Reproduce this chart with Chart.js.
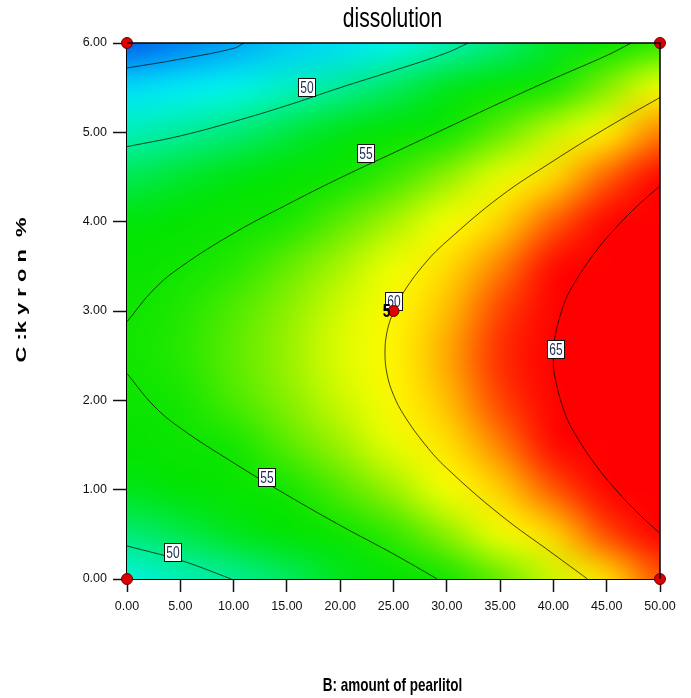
<!DOCTYPE html>
<html>
<head>
<meta charset="utf-8">
<title>dissolution</title>
<script src="https://cdn.jsdelivr.net/npm/chart.js@4.4.1/dist/chart.umd.min.js"></script>
<style>
  html, body { margin: 0; padding: 0; background: #fff; }
</style>
</head>
<body>
<canvas id="contourChart" width="691" height="698"></canvas>
<script>
// Response surface: rows follow kyronC, columns follow amountB
const amountB = [0, 5, 10, 15, 20, 25, 30, 35, 40, 45, 50];
const kyronC = [0, 0.5, 1, 1.5, 2, 2.5, 3, 3.5, 4, 4.5, 5, 5.5, 6];
const dissolution = [
  [48.1, 49.0, 49.9, 51.0, 52.3, 53.6, 55.2, 56.8, 58.6, 60.6, 62.7],
  [50.6, 51.4, 52.3, 53.4, 54.6, 56.0, 57.5, 59.2, 60.9, 62.9, 65.0],
  [52.5, 53.3, 54.2, 55.3, 56.5, 57.8, 59.3, 61.0, 62.7, 64.7, 66.7],
  [53.9, 54.6, 55.5, 56.6, 57.8, 59.1, 60.6, 62.2, 64.0, 65.9, 68.0],
  [54.7, 55.5, 56.4, 57.4, 58.6, 59.9, 61.4, 63.0, 64.8, 66.7, 68.7],
  [55.1, 55.8, 56.7, 57.7, 58.9, 60.2, 61.7, 63.3, 65.0, 66.9, 68.9],
  [54.9, 55.7, 56.5, 57.5, 58.7, 60.0, 61.4, 63.0, 64.7, 66.6, 68.6],
  [54.2, 55.0, 55.8, 56.8, 58.0, 59.2, 60.7, 62.2, 63.9, 65.8, 67.8],
  [53.1, 53.8, 54.6, 55.6, 56.7, 58.0, 59.4, 60.9, 62.6, 64.5, 66.4],
  [51.3, 52.0, 52.9, 53.8, 54.9, 56.2, 57.6, 59.1, 60.8, 62.6, 64.6],
  [49.1, 49.8, 50.6, 51.6, 52.7, 53.9, 55.3, 56.8, 58.5, 60.3, 62.2],
  [46.4, 47.0, 47.8, 48.8, 49.9, 51.1, 52.4, 54.0, 55.6, 57.4, 59.3],
  [43.1, 43.8, 44.6, 45.5, 46.5, 47.8, 49.1, 50.6, 52.2, 54.0, 55.9]
];

// contour lines as [B, C] pairs
const contour45 = [[0, 5.72], [5, 5.82], [10, 5.94], [11, 6.0]];
const contour50Upper = [[0, 4.84], [5, 4.96], [10, 5.12], [15, 5.3], [20, 5.5], [25, 5.69], [30, 5.89], [32, 6.0]];
const contour50Lower = [[0, 0.37], [5, 0.21], [9.8, 0]];
const contour55Upper = [[0, 2.88], [2.5, 3.24], [5, 3.49], [10, 3.87], [15, 4.19], [20, 4.49], [25, 4.77], [30, 5.05], [35, 5.33], [40, 5.6], [45, 5.86], [47.3, 6.0]];
const contour55Lower = [[0, 2.3], [2.5, 1.94], [5, 1.69], [10, 1.3], [15, 0.94], [20, 0.6], [25, 0.28], [29.1, 0]];
const contour60 = [[43.2, 0], [40, 0.28], [35, 0.72], [30, 1.24], [28, 1.5], [26, 1.83], [25, 2.06], [24.4, 2.29], [24.2, 2.53], [24.4, 2.77], [25, 2.99], [26, 3.22], [28, 3.54], [30, 3.78], [35, 4.28], [40, 4.68], [45, 5.05], [50, 5.39]];
const contour65 = [[50, 0.51], [48, 0.73], [46, 0.98], [44, 1.27], [42, 1.63], [41, 1.88], [40.1, 2.29], [40, 2.48], [40.1, 2.68], [41, 3.08], [42, 3.32], [44, 3.67], [46, 3.95], [48, 4.19], [50, 4.4]];

// contour labels
const labelB = [16.9, 22.4, 25, 40.2, 13.1, 4.3];
const labelC = [5.51, 4.77, 3.11, 2.57, 1.14, 0.3];
const labelText = ['50', '55', '60', '65', '55', '50'];

// design points (centre point has 5 replicates)
const designB = [0, 0, 50, 50, 25];
const designC = [0, 6, 0, 6, 3];
const centreReplicates = '5';

const SANS = '"Liberation Sans", Arial, sans-serif';

const colourStops = [
  [43, [0, 90, 235]],
  [45.2, [0, 195, 250]],
  [47.5, [0, 245, 245]],
  [50.3, [0, 236, 135]],
  [52.3, [0, 230, 30]],
  [53.5, [0, 228, 0]],
  [55.5, [20, 230, 0]],
  [57.5, [140, 240, 0]],
  [59.3, [245, 255, 0]],
  [60.2, [255, 245, 0]],
  [61.5, [255, 185, 0]],
  [62.6, [255, 95, 0]],
  [63.8, [255, 10, 0]],
  [65, [255, 0, 0]]
];

function colourFor(v) {
  if (v <= colourStops[0][0]) return colourStops[0][1];
  for (let i = 1; i < colourStops.length; i++) {
    const [v1, c1] = colourStops[i];
    if (v <= v1) {
      const [v0, c0] = colourStops[i - 1];
      const t = (v - v0) / (v1 - v0);
      return c0.map((c, k) => Math.round(c + (c1[k] - c) * t));
    }
  }
  return colourStops[colourStops.length - 1][1];
}

const toPoints = pairs => pairs.map(p => ({x: p[0], y: p[1]}));

// text drawn with a squeeze, the source picture is stretched vertically
function stretchedText(ctx, txt, x, y, font, sx, sy) {
  ctx.save();
  ctx.translate(x, y);
  ctx.scale(sx, sy);
  ctx.font = font;
  ctx.fillText(txt, 0, 0);
  ctx.restore();
}

// colour field under everything
const heatmapPlugin = {
  id: 'heatmap',
  beforeDatasetsDraw(chart) {
    const {ctx, chartArea, scales: {x, y}} = chart;
    const cols = amountB.length, rows = kyronC.length;
    const off = document.createElement('canvas');
    off.width = cols;
    off.height = rows;
    const octx = off.getContext('2d');
    const img = octx.createImageData(cols, rows);
    for (let j = 0; j < rows; j++) {
      for (let i = 0; i < cols; i++) {
        const rgb = colourFor(dissolution[j][i]);
        const k = ((rows - 1 - j) * cols + i) * 4;
        img.data[k] = rgb[0];
        img.data[k + 1] = rgb[1];
        img.data[k + 2] = rgb[2];
        img.data[k + 3] = 255;
      }
    }
    octx.putImageData(img, 0, 0);
    const dx = (amountB[1] - amountB[0]) / 2;
    const dy = (kyronC[1] - kyronC[0]) / 2;
    const left = x.getPixelForValue(amountB[0] - dx);
    const right = x.getPixelForValue(amountB[cols - 1] + dx);
    const top = y.getPixelForValue(kyronC[rows - 1] + dy);
    const bottom = y.getPixelForValue(kyronC[0] - dy);
    ctx.save();
    ctx.beginPath();
    ctx.rect(chartArea.left, chartArea.top, chartArea.width, chartArea.height);
    ctx.clip();
    ctx.imageSmoothingEnabled = true;
    ctx.imageSmoothingQuality = 'high';
    ctx.drawImage(off, left, top, right - left, bottom - top);
    ctx.restore();
  }
};

// contour labels go under the design points (dataset 0 is drawn last)
const labelPlugin = {
  id: 'contourLabels',
  beforeDatasetDraw(chart, args) {
    if (args.index !== 0) return;
    const {ctx, scales: {x, y}} = chart;
    ctx.save();
    labelText.forEach((txt, i) => {
      const px = Math.round(x.getPixelForValue(labelB[i]));
      const py = Math.round(y.getPixelForValue(labelC[i]));
      ctx.fillStyle = '#fff';
      ctx.fillRect(px - 9, py - 9, 18, 19);
      ctx.strokeStyle = '#111';
      ctx.lineWidth = 1;
      ctx.strokeRect(px - 8.5, py - 8.5, 17, 18);
      ctx.fillStyle = '#1c2b55';
      ctx.textAlign = 'center';
      ctx.textBaseline = 'middle';
      stretchedText(ctx, txt, px, py + 1, '12px ' + SANS, 1, 1.4);
    });
    ctx.restore();
  },
  afterDatasetsDraw(chart) {
    const {ctx, chartArea, scales: {x, y}} = chart;
    ctx.save();
    // frame on top and right
    ctx.strokeStyle = '#000';
    ctx.lineWidth = 1.5;
    ctx.beginPath();
    ctx.moveTo(chartArea.left, chartArea.top);
    ctx.lineTo(chartArea.right, chartArea.top);
    ctx.lineTo(chartArea.right, chartArea.bottom);
    ctx.stroke();
    // replicate count next to the centre point
    ctx.fillStyle = '#000';
    ctx.textAlign = 'right';
    ctx.textBaseline = 'middle';
    stretchedText(ctx, centreReplicates, x.getPixelForValue(designB[4]) - 3, y.getPixelForValue(designC[4]) + 1, 'bold 14px ' + SANS, 1, 1.25);
    ctx.restore();
  },
  afterDraw(chart) {
    const {ctx, chartArea} = chart;
    const mid = (chartArea.left + chartArea.right) / 2;
    ctx.save();
    ctx.fillStyle = '#000';
    ctx.textAlign = 'center';
    ctx.textBaseline = 'middle';
    // title over the plot area
    stretchedText(ctx, 'dissolution', mid - 1, 20, '27px ' + SANS, 0.78, 1);
    // x axis title
    stretchedText(ctx, 'B: amount of pearlitol', mid - 1, 686, 'bold 13.5px ' + SANS, 1, 1.3);
    // y axis title, runs upwards
    ctx.translate(22, 290);
    ctx.rotate(-Math.PI / 2);
    stretchedText(ctx, 'C :k y r o n  %', 0, 0, 'bold 15px ' + SANS, 1.46, 1);
    ctx.restore();
  }
};

const lineStyle = {
  showLine: true,
  pointRadius: 0,
  pointHoverRadius: 0,
  borderColor: 'rgba(0, 0, 0, 0.7)',
  borderWidth: 1,
  tension: 0.4,
  fill: false
};

const contours = [contour45, contour50Upper, contour50Lower, contour55Upper, contour55Lower, contour60, contour65];

const datasets = [{
  label: 'design points',
  data: designB.map((b, i) => ({x: b, y: designC[i]})),
  pointRadius: 5.5,
  pointHoverRadius: 5.5,
  backgroundColor: '#dd0000',
  borderColor: '#6a0000',
  borderWidth: 1,
  clip: false
}].concat(contours.map((c, i) => Object.assign({label: 'contour ' + i, data: toPoints(c)}, lineStyle)));

new Chart(document.getElementById('contourChart'), {
  type: 'scatter',
  data: {datasets},
  options: {
    responsive: false,
    animation: false,
    events: [],
    layout: {padding: {top: 43, right: 31, bottom: 0, left: 0}},
    plugins: {
      legend: {display: false},
      tooltip: {enabled: false},
      title: {display: false}
    },
    scales: {
      x: {
        type: 'linear',
        min: 0,
        max: 50,
        afterFit: s => { s.height = 119; },
        ticks: {
          stepSize: 5,
          color: '#111',
          padding: 7,
          maxRotation: 0,
          font: {family: SANS, size: 12.5},
          callback: v => v.toFixed(2)
        },
        grid: {drawOnChartArea: false, drawTicks: true, tickLength: 13, tickColor: '#111', tickWidth: 1.5},
        border: {display: true, color: '#000', width: 2}
      },
      y: {
        type: 'linear',
        min: 0,
        max: 6,
        afterFit: s => { s.width = 127; },
        ticks: {
          stepSize: 1,
          color: '#111',
          padding: 6,
          font: {family: SANS, size: 12.5},
          callback: v => v.toFixed(2)
        },
        grid: {drawOnChartArea: false, drawTicks: true, tickLength: 14, tickColor: '#111', tickWidth: 1.5},
        border: {display: true, color: '#000', width: 2}
      }
    }
  },
  plugins: [heatmapPlugin, labelPlugin]
});
</script>
</body>
</html>
